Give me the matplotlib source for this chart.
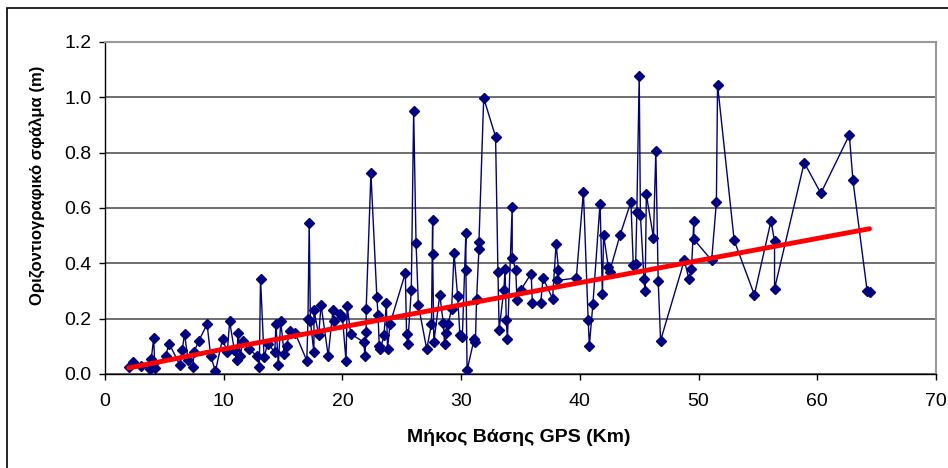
import numpy as np
import matplotlib.pyplot as plt
from matplotlib.patches import Rectangle

plt.rcParams['font.family'] = ['Liberation Sans', 'DejaVu Sans']

# baseline length (km) and horizontal error (m)
base_km = [2.0, 2.4, 3.0, 3.8, 3.9, 4.1, 4.2, 5.1, 5.4, 6.3, 6.5, 6.7, 7.0, 7.4, 7.5,
           7.9, 8.6, 8.9, 9.3, 9.9, 10.3, 10.5, 10.9, 11.1, 11.2, 11.4, 11.6, 12.1,
           12.8, 13.0, 13.1, 13.4, 13.7, 14.3, 14.4, 14.6, 14.8, 15.1, 15.3, 15.6,
           16.0, 17.0, 17.1, 17.2, 17.3, 17.6, 17.6, 18.0, 18.2, 18.8, 19.2, 19.3,
           19.8, 20.0, 20.3, 20.4, 20.7, 21.8, 21.9, 22.0, 22.0, 22.4, 22.9, 23.0,
           23.1, 23.2, 23.5, 23.7, 23.8, 24.0, 25.3, 25.4, 25.5, 25.8, 26.0, 26.2,
           26.4, 27.1, 27.5, 27.6, 27.6, 27.7, 28.2, 28.5, 28.6, 28.7, 28.9, 29.2,
           29.4, 29.7, 29.9, 30.1, 30.4, 30.4, 30.5, 31.1, 31.2, 31.3, 31.5, 31.5,
           31.9, 32.9, 33.1, 33.2, 33.6, 33.7, 33.8, 33.9, 34.3, 34.3, 34.6, 34.7,
           35.0, 35.9, 36.0, 36.7, 36.9, 37.7, 38.0, 38.2, 38.1, 39.7, 40.3, 40.7,
           40.8, 41.1, 41.7, 41.9, 42.0, 42.4, 42.5, 43.4, 44.3, 44.5, 44.7, 44.8,
           45.0, 45.1, 45.4, 45.5, 45.6, 46.2, 46.4, 46.6, 46.8, 48.8, 49.2, 49.4,
           49.6, 49.6, 51.1, 51.5, 51.6, 53.0, 54.7, 56.1, 56.4, 56.4, 58.9, 60.3,
           62.7, 63.0, 64.2, 64.4]
error_m = [0.024, 0.045, 0.03, 0.018, 0.055, 0.13, 0.02, 0.065, 0.11, 0.033, 0.085,
           0.145, 0.05, 0.025, 0.08, 0.12, 0.18, 0.066, 0.01, 0.127, 0.08, 0.19,
           0.085, 0.05, 0.15, 0.065, 0.12, 0.09, 0.066, 0.027, 0.345, 0.06, 0.11,
           0.08, 0.18, 0.033, 0.19, 0.072, 0.103, 0.157, 0.15, 0.048, 0.2, 0.547,
           0.19, 0.078, 0.232, 0.14, 0.25, 0.066, 0.23, 0.19, 0.217, 0.205, 0.048,
           0.244, 0.145, 0.115, 0.066, 0.153, 0.236, 0.725, 0.278, 0.214, 0.103,
           0.09, 0.14, 0.256, 0.09, 0.18, 0.365, 0.145, 0.108, 0.302, 0.951, 0.475,
           0.248, 0.09, 0.18, 0.558, 0.435, 0.115, 0.286, 0.183, 0.108, 0.15, 0.18,
           0.235, 0.437, 0.283, 0.14, 0.133, 0.51, 0.377, 0.014, 0.127, 0.115, 0.27,
           0.453, 0.477, 0.997, 0.858, 0.369, 0.16, 0.305, 0.38, 0.196, 0.127, 0.604,
           0.42, 0.377, 0.268, 0.302, 0.363, 0.256, 0.256, 0.347, 0.272, 0.471,
           0.377, 0.338, 0.347, 0.659, 0.196, 0.103, 0.254, 0.616, 0.29, 0.502,
           0.387, 0.369, 0.504, 0.622, 0.393, 0.399, 0.586, 1.078, 0.574, 0.344,
           0.299, 0.649, 0.493, 0.807, 0.335, 0.121, 0.411, 0.342, 0.38, 0.552,
           0.487, 0.411, 0.62, 1.045, 0.483, 0.286, 0.553, 0.48, 0.308, 0.764, 0.653,
           0.864, 0.701, 0.3, 0.296]

# red trend line, read at a few points
trend_km = [2.0, 10, 20, 30, 40, 50, 60, 64.4]
trend_m = [0.022, 0.09, 0.17, 0.25, 0.33, 0.41, 0.49, 0.525]

x_ticks = [0, 10, 20, 30, 40, 50, 60, 70]
y_ticks = [0.0, 0.2, 0.4, 0.6, 0.8, 1.0, 1.2]

fig = plt.figure(figsize=(9.48, 4.68), dpi=100)
ax = fig.add_axes([105/948, 94/468, 831/948, 332/468])

# outer chart frame
fig.patches.append(Rectangle((7/948, -0.1), 1.2, 1 - 8/468 + 0.1,
                             transform=fig.transFigure, fill=False,
                             edgecolor='black', linewidth=1.2))

ax.plot(base_km, error_m, color='#000080', linewidth=1.0, marker='D',
        markersize=5.5, markerfacecolor='#000080', markeredgecolor='#000080',
        zorder=3)
ax.plot(trend_km, trend_m, color='#ff0000', linewidth=3.5,
        solid_capstyle='round', zorder=4)

ax.set_xlim(0, 70)
ax.set_ylim(0, 1.2)
ax.set_xticks(x_ticks)
ax.set_yticks(y_ticks)
ax.set_yticklabels(['%.1f' % v for v in y_ticks])
ax.tick_params(labelsize=14, direction='out', length=4.5, width=1)
ax.tick_params(axis='x', pad=9)
ax.tick_params(axis='y', pad=5)
ax.yaxis.grid(True, color='#555555', linewidth=1.2)
ax.set_axisbelow(True)

for side in ['top', 'right']:
    ax.spines[side].set_color('#999999')
    ax.spines[side].set_linewidth(1.5)
for side in ['left', 'bottom']:
    ax.spines[side].set_color('black')
    ax.spines[side].set_linewidth(1.0)

ax.set_xlabel('Μήκος Βάσης GPS (Km)', fontsize=14, fontweight='bold')
ax.xaxis.label.set_va('center')
ax.xaxis.set_label_coords(0.4976, (374 - 437) / 332)
ax.set_ylabel('Οριζοντιογραφικό σφάλμα (m)', fontsize=12, fontweight='bold')
ax.yaxis.label.set_va('center')
ax.yaxis.set_label_coords((38.5 - 105) / 831, (374 - 185) / 332)

fig.savefig('out.png', dpi=100)
